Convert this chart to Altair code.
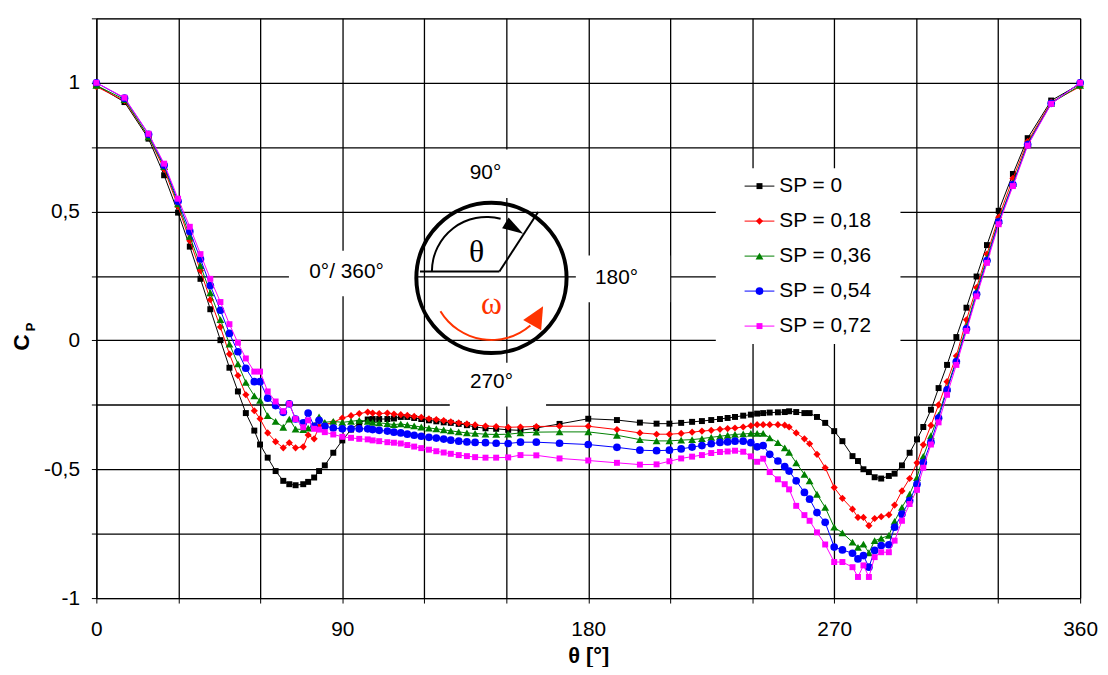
import altair as alt
import pandas as pd

# ---------------- data ----------------
THETA = [
    0, 10.3, 19.1, 24.8, 29.9, 34.2, 38.1, 41.7, 45.4, 48.7,
    51.8, 54.7, 57.8, 59.9, 62.7, 65.6, 68.4, 70.6, 72.9, 75.7,
    77.5, 79.7, 81.5, 83.6, 86.7, 90.0, 93.2, 96.2, 99.3, 101.1,
    103.5, 106.5, 108.9, 111.4, 113.8, 116.3, 118.9, 121.7, 124.4, 127.1,
    129.7, 132.6, 135.6, 138.6, 142.4, 146.3, 150.7, 155.2, 161.0, 169.5,
    180.0, 190.5, 198.9, 205.0, 209.7, 214.0, 218.0, 221.6, 225.0, 228.2,
    231.0, 233.7, 236.7, 239.5, 241.8, 244.0, 246.4, 249.4, 251.9, 253.5,
    256.1, 259.1, 261.0, 263.7, 266.7, 270.0, 273.0, 276.7, 278.7, 280.7,
    282.7, 284.8, 287.2, 290.0, 292.1, 294.8, 297.6, 300.3, 302.6, 305.4,
    308.2, 311.3, 314.7, 318.4, 322.1, 325.9, 330.2, 335.4, 340.8, 349.4,
    360.0,
]

CP_SP_0 = [
    0.99, 0.925, 0.783, 0.641, 0.496, 0.364, 0.239, 0.121, 0.001, -0.106,
    -0.198, -0.282, -0.350, -0.404, -0.455, -0.507, -0.545, -0.558, -0.562, -0.558,
    -0.549, -0.532, -0.507, -0.485, -0.436, -0.388, -0.346, -0.320, -0.307, -0.305,
    -0.305, -0.305, -0.303, -0.297, -0.297, -0.301, -0.305, -0.310, -0.314, -0.318,
    -0.320, -0.324, -0.329, -0.336, -0.341, -0.343, -0.347, -0.349, -0.340, -0.324,
    -0.304, -0.309, -0.319, -0.323, -0.323, -0.320, -0.316, -0.313, -0.309, -0.305,
    -0.301, -0.297, -0.292, -0.288, -0.284, -0.282, -0.280, -0.279, -0.278, -0.275,
    -0.278, -0.282, -0.282, -0.297, -0.320, -0.352, -0.391, -0.449, -0.468, -0.500,
    -0.511, -0.531, -0.536, -0.526, -0.517, -0.485, -0.436, -0.384, -0.336, -0.269,
    -0.185, -0.095, 0.013, 0.127, 0.248, 0.370, 0.503, 0.646, 0.785, 0.931,
    0.995,
]

CP_SP_018 = [
    0.985, 0.93, 0.79, 0.665, 0.52, 0.387, 0.271, 0.158, 0.052, -0.053,
    -0.136, -0.211, -0.273, -0.304, -0.359, -0.393, -0.417, -0.397, -0.417, -0.413,
    -0.367, -0.382, -0.333, -0.327, -0.318, -0.301, -0.292, -0.284, -0.278, -0.282,
    -0.284, -0.282, -0.286, -0.288, -0.291, -0.295, -0.298, -0.304, -0.307, -0.311,
    -0.316, -0.320, -0.324, -0.328, -0.332, -0.334, -0.337, -0.336, -0.334, -0.333,
    -0.333, -0.346, -0.359, -0.364, -0.364, -0.361, -0.356, -0.352, -0.349, -0.345,
    -0.342, -0.340, -0.336, -0.331, -0.327, -0.327, -0.327, -0.327, -0.329, -0.336,
    -0.359, -0.382, -0.401, -0.442, -0.494, -0.571, -0.613, -0.655, -0.687, -0.687,
    -0.719, -0.691, -0.684, -0.677, -0.639, -0.584, -0.536, -0.475, -0.405, -0.330,
    -0.250, -0.160, -0.060, 0.080, 0.205, 0.335, 0.478, 0.629, 0.772, 0.925,
    0.985,
]

CP_SP_036 = [
    0.99, 0.935, 0.79, 0.675, 0.53, 0.404, 0.290, 0.185, 0.081, -0.014,
    -0.091, -0.163, -0.215, -0.233, -0.292, -0.314, -0.337, -0.305, -0.344, -0.346,
    -0.340, -0.330, -0.297, -0.318, -0.314, -0.318, -0.314, -0.310, -0.314, -0.318,
    -0.320, -0.323, -0.327, -0.324, -0.328, -0.332, -0.336, -0.340, -0.343, -0.347,
    -0.351, -0.355, -0.359, -0.361, -0.364, -0.365, -0.364, -0.359, -0.356, -0.355,
    -0.355, -0.368, -0.385, -0.390, -0.390, -0.387, -0.385, -0.381, -0.376, -0.372,
    -0.368, -0.365, -0.363, -0.361, -0.361, -0.361, -0.378, -0.397, -0.417, -0.434,
    -0.475, -0.520, -0.545, -0.597, -0.648, -0.725, -0.747, -0.783, -0.803, -0.791,
    -0.824, -0.777, -0.768, -0.757, -0.702, -0.648, -0.597, -0.532, -0.450, -0.370,
    -0.290, -0.185, -0.075, 0.055, 0.190, 0.320, 0.465, 0.610, 0.765, 0.920,
    0.99,
]

CP_SP_054 = [
    1.0, 0.94, 0.80, 0.68, 0.54, 0.423, 0.316, 0.213, 0.117, 0.027,
    -0.044, -0.108, -0.160, -0.160, -0.224, -0.253, -0.279, -0.246, -0.305, -0.320,
    -0.282, -0.333, -0.310, -0.333, -0.340, -0.343, -0.343, -0.343, -0.343, -0.346,
    -0.349, -0.352, -0.356, -0.359, -0.364, -0.368, -0.372, -0.376, -0.379, -0.383,
    -0.387, -0.391, -0.394, -0.396, -0.397, -0.399, -0.400, -0.395, -0.395, -0.399,
    -0.404, -0.415, -0.426, -0.428, -0.426, -0.421, -0.414, -0.408, -0.401, -0.396,
    -0.394, -0.391, -0.391, -0.397, -0.413, -0.408, -0.442, -0.468, -0.490, -0.507,
    -0.545, -0.590, -0.616, -0.668, -0.706, -0.802, -0.813, -0.826, -0.848, -0.835,
    -0.880, -0.815, -0.796, -0.793, -0.725, -0.674, -0.622, -0.558, -0.474, -0.395,
    -0.301, -0.192, -0.082, 0.045, 0.180, 0.310, 0.460, 0.605, 0.760, 0.920,
    1.0,
]

CP_SP_072 = [
    1.0, 0.942, 0.802, 0.686, 0.550, 0.441, 0.335, 0.239, 0.149, 0.063,
    -0.009, -0.070, -0.121, -0.121, -0.198, -0.237, -0.275, -0.246, -0.305, -0.337,
    -0.310, -0.343, -0.346, -0.356, -0.365, -0.374, -0.378, -0.382, -0.384, -0.388,
    -0.391, -0.395, -0.397, -0.400, -0.406, -0.412, -0.418, -0.424, -0.430, -0.435,
    -0.440, -0.445, -0.449, -0.453, -0.455, -0.455, -0.454, -0.445, -0.446, -0.458,
    -0.466, -0.475, -0.482, -0.481, -0.469, -0.458, -0.451, -0.445, -0.437, -0.433,
    -0.431, -0.428, -0.432, -0.450, -0.471, -0.459, -0.511, -0.539, -0.558, -0.578,
    -0.642, -0.678, -0.700, -0.745, -0.792, -0.860, -0.860, -0.880, -0.918, -0.873,
    -0.918, -0.841, -0.822, -0.822, -0.777, -0.700, -0.635, -0.580, -0.494, -0.404,
    -0.318, -0.211, -0.095, 0.037, 0.171, 0.301, 0.451, 0.599, 0.756, 0.918,
    1.0,
]

SERIES = ["SP = 0", "SP = 0,18", "SP = 0,36", "SP = 0,54", "SP = 0,72"]
VALUES = [CP_SP_0, CP_SP_018, CP_SP_036, CP_SP_054, CP_SP_072]
COLORS = ["#000000", "#FF0000", "#008000", "#0000FF", "#FF00FF"]
SHAPES = ["square", "diamond", "triangle-up", "circle", "square"]
SIZES = [36, 52, 62, 60, 36]

X_TICKS = list(range(0, 361, 30))
Y_TICKS = [-1.0, -0.75, -0.5, -0.25, 0.0, 0.25, 0.5, 0.75, 1.0, 1.25]

INSET_LABELS = ["90°", "0°/ 360°", "180°", "270°"]

# ---------------- styling ----------------
FONT = "Liberation Sans"
SERIF = "Liberation Serif"
W, H = 991, 584
ARROW_NARROW = "M1,0L-1,-0.6L-1,0.6Z"
ARROW_WIDE = "M1,0L-1,-0.95L-1,0.95Z"

frames = []
for name, vals in zip(SERIES, VALUES):
    assert len(vals) == len(THETA), name
    frames.append(pd.DataFrame({"theta": THETA, "cp": vals, "series": name}))

x_enc = alt.X(
    "theta:Q",
    scale=alt.Scale(domain=[0, 360], nice=False, zero=False),
    axis=alt.Axis(
        values=X_TICKS,
        labelExpr="datum.value % 90 == 0 ? '' + datum.value : ''",
        title="θ [°]",
        titleFont=FONT, titleFontSize=22, titleFontWeight="bold", titleColor="black",
        titleBaseline="alphabetic", titleY=65,
        labelFont=FONT, labelFontSize=21, labelColor="black", labelPadding=16,
        labelFlush=False, labelOverlap=False,
        tickSize=5, tickColor="black", domainColor="black",
        grid=True, gridColor="black", gridWidth=1.3,
    ),
)
y_label_expr = (
    "(datum.value <= 1 && abs(datum.value * 2 - round(datum.value * 2)) < 0.001) ? "
    "((datum.value < 0 ? '-' : '') + replace('' + abs(datum.value), '.', ',')) : ''"
)
y_enc = alt.Y(
    "cp:Q",
    scale=alt.Scale(domain=[-1, 1.25], nice=False, zero=False),
    axis=alt.Axis(
        values=Y_TICKS,
        labelExpr=y_label_expr,
        title=None,
        labelFont=FONT, labelFontSize=21, labelColor="black", labelPadding=12,
        labelOverlap=False,
        tickSize=5, tickColor="black", domainColor="black",
        grid=True, gridColor="black", gridWidth=1.3,
    ),
)

ANNOT = pd.DataFrame({"k": [0]})


def box(x1, x2, y1, y2):
    return alt.Chart(ANNOT).mark_rect(color="white", opacity=1).encode(
        x=alt.value(x1), x2=alt.value(x2), y=alt.value(y1), y2=alt.value(y2)
    )


def label(txt, x, y, size=21, font=FONT, color="black", weight="normal", angle=0):
    return alt.Chart(ANNOT).mark_text(
        text=txt, font=font, fontSize=size, color=color, fontWeight=weight,
        align="center", baseline="middle", angle=angle,
    ).encode(x=alt.value(x), y=alt.value(y))


def seg(x1, y1, x2, y2, color="black", width=2):
    return alt.Chart(ANNOT).mark_rule(color=color, strokeWidth=width).encode(
        x=alt.value(x1), x2=alt.value(x2), y=alt.value(y1), y2=alt.value(y2)
    )


layers = []

# white label backgrounds (cover grid lines)
layers += [
    box(353, 458, 132, 181),   # 90°
    box(194, 321, 234, 280),   # 0°/360°
    box(483, 578, 239, 286),   # 180°
    box(356, 453, 347, 391),   # 270°
    box(624, 810, 151, 328),   # legend
]

# data series
for i, df in enumerate(frames):
    layers.append(
        alt.Chart(df).mark_line(color=COLORS[i], strokeWidth=1).encode(x=x_enc, y=y_enc)
    )
    layers.append(
        alt.Chart(df).mark_point(
            shape=SHAPES[i], filled=True, size=SIZES[i], color=COLORS[i], opacity=1
        ).encode(x=x_enc, y=y_enc)
    )

# rotation inset
layers.append(
    alt.Chart(ANNOT).mark_point(
        shape="circle", size=22900, filled=False, stroke="black", strokeWidth=4, opacity=1
    ).encode(x=alt.value(398), y=alt.value(261.5))
)
layers.append(seg(326, 255, 406, 255))
layers.append(seg(406, 255, 445, 195))
layers.append(
    alt.Chart(ANNOT).mark_arc(
        theta=4.712, theta2=6.545, innerRadius=54, outerRadius=56, color="black"
    ).encode(x=alt.value(393), y=alt.value(255))
)
layers.append(
    alt.Chart(ANNOT).mark_point(
        shape=ARROW_NARROW, filled=True, size=441, angle=31, color="black", opacity=1
    ).encode(x=alt.value(421), y=alt.value(211.5))
)
layers.append(
    alt.Chart(ANNOT).mark_arc(
        theta=2.43, theta2=4.17, innerRadius=59, outerRadius=61, color="#FF3300"
    ).encode(x=alt.value(398), y=alt.value(264))
)
layers.append(
    alt.Chart(ANNOT).mark_point(
        shape=ARROW_WIDE, filled=True, size=484, angle=300, color="#FF3300", opacity=1
    ).encode(x=alt.value(444.5), y=alt.value(299.5))
)
layers.append(label("θ", 383, 235, size=32, font=SERIF))
layers.append(label("ω", 398, 288, size=32, font=SERIF, color="#FF3300"))
layers.append(label(INSET_LABELS[0], 392, 155.5))
layers.append(label(INSET_LABELS[1], 252, 256))
layers.append(label(INSET_LABELS[2], 524, 262))
layers.append(label(INSET_LABELS[3], 398, 366))

# legend
for i, name in enumerate(SERIES):
    yy = 169 + i * 35.25
    layers.append(seg(653, yy, 683, yy, color=COLORS[i], width=1))
    layers.append(
        alt.Chart(ANNOT).mark_point(
            shape=SHAPES[i], filled=True, size=SIZES[i], color=COLORS[i], opacity=1
        ).encode(x=alt.value(668), y=alt.value(yy))
    )
    layers.append(
        alt.Chart(ANNOT).mark_text(
            text=name, font=FONT, fontSize=21, color="black", align="left", baseline="middle"
        ).encode(x=alt.value(688), y=alt.value(yy))
    )

# y-axis title C_P
layers.append(label("C", -75, 326.5, size=23, weight="bold", angle=270))
layers.append(label("P", -66, 311, size=13, weight="bold", angle=270))

chart = (
    alt.layer(*layers)
    .properties(
        width=W,
        height=H,
        padding={"left": 89, "top": 8, "right": 20, "bottom": 67},
        autosize=alt.AutoSizeParams(type="none"),
        background="white",
    )
    .configure_view(stroke="#808080", strokeWidth=1)
)

chart.save("out.html", embed_options={"renderer": "svg", "actions": False})
